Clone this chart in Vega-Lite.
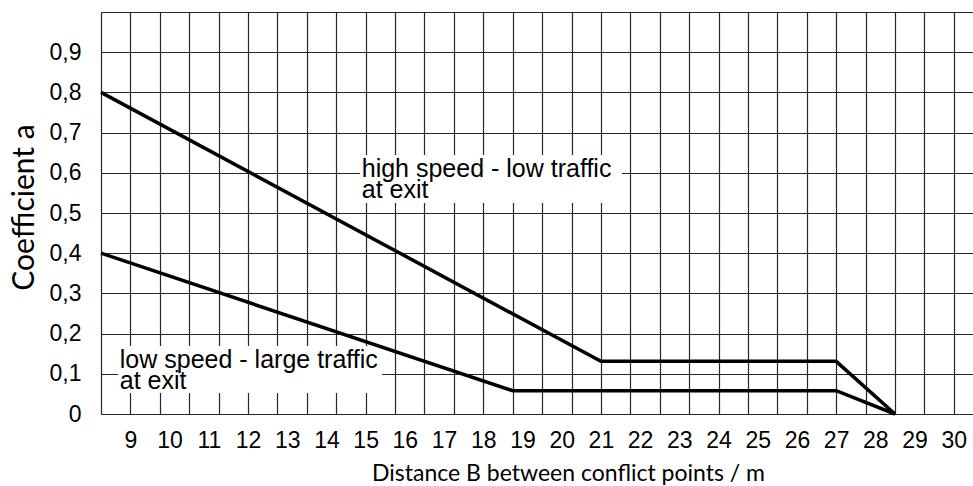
{
  "$schema": "https://vega.github.io/schema/vega-lite/v6.json",
  "width": 872,
  "height": 402,
  "autosize": {"type": "none"},
  "padding": {"left": 101, "top": 12, "right": 0, "bottom": 72},
  "background": "white",
  "view": {"stroke": null},
  "config": {"axis": {"domain": false, "ticks": false}},
  "datasets": {
    "lines": [
      {"series": "high speed", "x": 8.25, "y": 0.8},
      {"series": "high speed", "x": 21, "y": 0.131},
      {"series": "high speed", "x": 27, "y": 0.131},
      {"series": "high speed", "x": 28.5, "y": 0},
      {"series": "low speed", "x": 8.25, "y": 0.4},
      {"series": "low speed", "x": 18.75, "y": 0.058},
      {"series": "low speed", "x": 27, "y": 0.058},
      {"series": "low speed", "x": 28.5, "y": 0}
    ],
    "boxes": [
      {"series": "high speed", "x": 14.86, "x2": 21.54, "y": 0.525, "y2": 0.644},
      {"series": "low speed", "x": 8.68, "x2": 15.42, "y": 0.052, "y2": 0.169}
    ],
    "labels": [
      {"series": "high speed", "x": 14.9, "y": 0.59, "text": ["high speed - low traffic", "at exit"]},
      {"series": "low speed", "x": 8.73, "y": 0.114, "text": ["low speed - large traffic", "at exit"]}
    ]
  },
  "layer": [
    {
      "data": {"name": "boxes"},
      "mark": {"type": "rect", "fill": "white", "strokeWidth": 0},
      "encoding": {
        "x": {
          "field": "x", "type": "quantitative",
          "scale": {"domain": [8.25, 30.49], "nice": false, "zero": false},
          "axis": {
            "orient": "top",
            "values": [8.25, 9, 9.75, 10.5, 11.25, 12, 12.75, 13.5, 14.25, 15, 15.75, 16.5, 17.25, 18, 18.75, 19.5, 20.25, 21, 21.75, 22.5, 23.25, 24, 24.75, 25.5, 26.25, 27, 27.75, 28.5, 29.25, 30],
            "labels": false, "grid": true, "gridColor": "#000", "gridOpacity": 0.85, "gridWidth": 1.2, "title": null
          }
        },
        "x2": {"field": "x2"},
        "y": {
          "field": "y", "type": "quantitative",
          "scale": {"domain": [0, 1], "nice": false, "zero": true},
          "axis": {
            "values": [0, 0.1, 0.2, 0.3, 0.4, 0.5, 0.6, 0.7, 0.8, 0.9, 1.0],
            "grid": true, "gridColor": "#000", "gridOpacity": 0.85, "gridWidth": 1.2,
            "labelExpr": "datum.value == 0 ? '0' : (datum.value > 0.95 ? '' : replace(format(datum.value, '.1f'), '.', ','))",
            "labelFont": "Liberation Sans", "labelFontSize": 23, "labelColor": "#000", "labelPadding": 20,
            "title": "Coefficient a", "titleFont": "Lato", "titleFontSize": 30, "titleFontWeight": "normal", "titleColor": "#000",
            "titleAngle": 270, "titleX": -68, "titleY": 195, "titleAlign": "center", "titleBaseline": "alphabetic"
          }
        },
        "y2": {"field": "y2"}
      }
    },
    {
      "data": {"name": "lines"},
      "mark": {"type": "line", "color": "#000", "strokeWidth": 3.5},
      "encoding": {
        "x": {
          "field": "x", "type": "quantitative",
          "axis": {
            "orient": "bottom",
            "values": [9, 10, 11, 12, 13, 14, 15, 16, 17, 18, 19, 20, 21, 22, 23, 24, 25, 26, 27, 28, 29, 30],
            "grid": false, "labelFont": "Liberation Sans", "labelFontSize": 23, "labelColor": "#000", "labelPadding": 15,
            "title": "Distance B between conflict points / m", "titleFont": "Lato", "titleFontSize": 23, "titleFontWeight": "normal", "titleColor": "#000",
            "titleX": 467, "titleY": 66, "titleAlign": "center", "titleBaseline": "alphabetic"
          }
        },
        "y": {"field": "y", "type": "quantitative"},
        "detail": {"field": "series"}
      }
    },
    {
      "data": {"name": "labels"},
      "mark": {"type": "text", "font": "Liberation Sans", "fontSize": 25, "align": "left", "baseline": "alphabetic", "lineHeight": 21, "color": "#000"},
      "encoding": {
        "x": {"field": "x", "type": "quantitative", "axis": null},
        "y": {"field": "y", "type": "quantitative"},
        "text": {"field": "text"}
      }
    }
  ],
  "resolve": {"axis": {"x": "independent"}}
}
